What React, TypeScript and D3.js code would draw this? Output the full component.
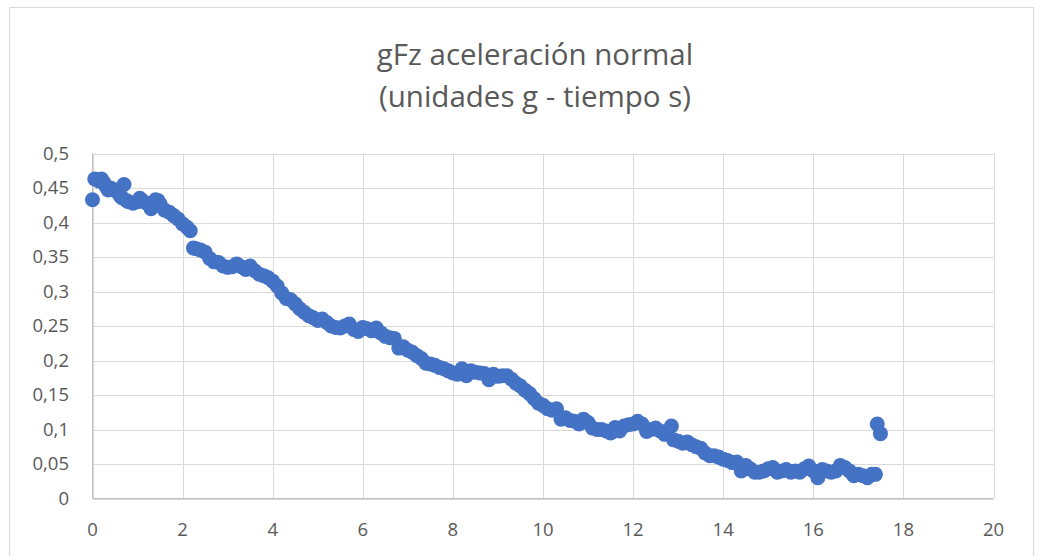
import React from "react";
import * as d3 from "d3";

const times: number[] = [
  0.0, 0.05, 0.1, 0.15, 0.2, 0.25, 0.3, 0.35, 0.4, 0.45, 0.5, 0.55, 0.6, 0.65, 0.7, 0.75, 0.8, 0.9, 1.0, 1.05,
  1.1, 1.2, 1.3, 1.35, 1.4, 1.45, 1.5, 1.6, 1.7, 1.8, 1.9, 2.0, 2.1, 2.17, 2.24, 2.3, 2.4, 2.5, 2.6, 2.7,
  2.8, 2.9, 3.0, 3.1, 3.2, 3.3, 3.4, 3.5, 3.6, 3.7, 3.8, 3.9, 4.0, 4.1, 4.2, 4.3, 4.4, 4.5, 4.6, 4.7,
  4.8, 4.9, 5.0, 5.1, 5.2, 5.3, 5.4, 5.5, 5.6, 5.7, 5.8, 5.9, 6.0, 6.1, 6.2, 6.3, 6.4, 6.5, 6.6, 6.7,
  6.8, 6.9, 7.0, 7.1, 7.2, 7.3, 7.4, 7.5, 7.6, 7.7, 7.8, 7.9, 8.0, 8.1, 8.2, 8.3, 8.4, 8.5, 8.6, 8.7,
  8.8, 8.9, 9.0, 9.1, 9.2, 9.3, 9.4, 9.5, 9.6, 9.7, 9.8, 9.9, 10.0, 10.1, 10.2, 10.3, 10.4, 10.5, 10.6, 10.7,
  10.8, 10.9, 11.0, 11.1, 11.2, 11.3, 11.4, 11.5, 11.6, 11.7, 11.8, 11.9, 12.0, 12.1, 12.2, 12.3, 12.4, 12.5, 12.6, 12.7,
  12.85, 12.9, 13.0, 13.1, 13.2, 13.3, 13.4, 13.5, 13.6, 13.7, 13.8, 13.9, 14.0, 14.1, 14.2, 14.3, 14.4, 14.5, 14.6, 14.7,
  14.8, 14.9, 15.0, 15.1, 15.2, 15.3, 15.4, 15.5, 15.6, 15.7, 15.8, 15.9, 16.0, 16.1, 16.2, 16.3, 16.4, 16.5, 16.6, 16.7,
  16.8, 16.9, 17.0, 17.1, 17.2, 17.3, 17.38, 17.42, 17.49,
];

const gFz: number[] = [
  0.433, 0.463, 0.462, 0.46, 0.463, 0.458, 0.452, 0.447, 0.45, 0.448, 0.447, 0.445, 0.44, 0.436, 0.455, 0.432, 0.43, 0.428, 0.43, 0.435,
  0.432, 0.428, 0.42, 0.425, 0.433, 0.432, 0.427, 0.418, 0.415, 0.41, 0.405, 0.398, 0.393, 0.388, 0.363, 0.362, 0.36, 0.357, 0.348, 0.343,
  0.342, 0.337, 0.335, 0.336, 0.34, 0.336, 0.332, 0.337, 0.33, 0.325, 0.323, 0.32, 0.315, 0.308, 0.298, 0.29, 0.288, 0.282, 0.275, 0.27,
  0.265, 0.262, 0.258, 0.26, 0.255, 0.25, 0.248, 0.247, 0.25, 0.253, 0.245, 0.242, 0.248, 0.246, 0.243, 0.247, 0.24, 0.235, 0.233, 0.232,
  0.218, 0.22, 0.215, 0.212, 0.207, 0.203, 0.196, 0.195, 0.193, 0.19, 0.188, 0.185, 0.182, 0.18, 0.188, 0.178, 0.185, 0.183, 0.182, 0.181,
  0.172, 0.18, 0.177, 0.178, 0.178, 0.173, 0.167, 0.163, 0.157, 0.152, 0.145, 0.138, 0.135, 0.13, 0.128, 0.13, 0.115, 0.117, 0.113, 0.112,
  0.108, 0.115, 0.11, 0.102, 0.1, 0.1, 0.098, 0.095, 0.103, 0.098, 0.105, 0.107, 0.108, 0.112, 0.108, 0.097, 0.1, 0.102, 0.098, 0.093,
  0.105, 0.085, 0.083, 0.08, 0.082, 0.078, 0.075, 0.073, 0.066, 0.062, 0.062, 0.06, 0.057, 0.055, 0.052, 0.053, 0.04, 0.048, 0.043, 0.038,
  0.038, 0.04, 0.043, 0.045, 0.038, 0.04, 0.042, 0.038, 0.04, 0.038, 0.043, 0.047, 0.04, 0.03, 0.042, 0.04, 0.038, 0.04, 0.048, 0.045,
  0.04, 0.033, 0.035, 0.033, 0.03, 0.035, 0.035, 0.108, 0.094,
];

const xTicks: number[] = [0, 2, 4, 6, 8, 10, 12, 14, 16, 18, 20];
const yTicks: number[] = [0, 0.05, 0.1, 0.15, 0.2, 0.25, 0.3, 0.35, 0.4, 0.45, 0.5];
const titleLines: string[] = ["gFz aceleración normal", "(unidades g - tiempo s)"];

const W = 1039;
const H = 556;
const left = 92.5;
const right = 993.5;
const top = 153.5;
const bottom = 498.5;

export default function App() {
  const x = d3.scaleLinear().domain([0, 20]).range([left, right]);
  const y = d3.scaleLinear().domain([0, 0.5]).range([bottom, top]);
  const fmt = (v: number) => String(+v.toFixed(2)).replace(".", ",");
  const font = "'Open Sans', 'Noto Sans', sans-serif";
  const points = times.map((t, i) => ({ t, v: gFz[i] }));

  return (
    <svg
      width={W}
      height={H}
      style={{ position: "absolute", left: 0, top: 0, background: "#fff" }}
      fontFamily={font}
    >
      <rect x={0} y={0} width={W} height={H} fill="#fff" />
      <rect x={9.5} y={7.5} width={1024} height={560} fill="#fff" stroke="#d9d9d9" strokeWidth={1} />
      {titleLines.map((s, i) => (
        <text
          key={i}
          x={535}
          y={65 + i * 42}
          textAnchor="middle"
          fontSize={29.5}
          fill="#595959"
          fontFamily="'Open Sans', sans-serif"
        >
          {s}
        </text>
      ))}
      {yTicks.map((v) => (
        <line key={"gy" + v} x1={left} x2={right} y1={Math.round(y(v)) + 0.5} y2={Math.round(y(v)) + 0.5} stroke="#d9d9d9" strokeWidth={1} />
      ))}
      {xTicks.map((v) => (
        <line key={"gx" + v} x1={Math.round(x(v)) + 0.5} x2={Math.round(x(v)) + 0.5} y1={top} y2={bottom} stroke="#d9d9d9" strokeWidth={1} />
      ))}
      <line x1={left} x2={right} y1={bottom} y2={bottom} stroke="#bfbfbf" strokeWidth={1} />
      <line x1={left} x2={left} y1={top} y2={bottom} stroke="#bfbfbf" strokeWidth={1} />
      {yTicks.map((v) => (
        <text key={"ly" + v} x={69} y={y(v)} dy="0.35em" textAnchor="end" fontSize={18.5} fill="#595959">
          {fmt(v)}
        </text>
      ))}
      {xTicks.map((v) => (
        <text key={"lx" + v} x={x(v)} y={530} dy="0.35em" textAnchor="middle" fontSize={18.5} fill="#595959">
          {fmt(v)}
        </text>
      ))}
      {points.map((p, i) => (
        <circle key={i} cx={x(p.t)} cy={y(p.v)} r={7.5} fill="#4472c4" />
      ))}
    </svg>
  );
}
